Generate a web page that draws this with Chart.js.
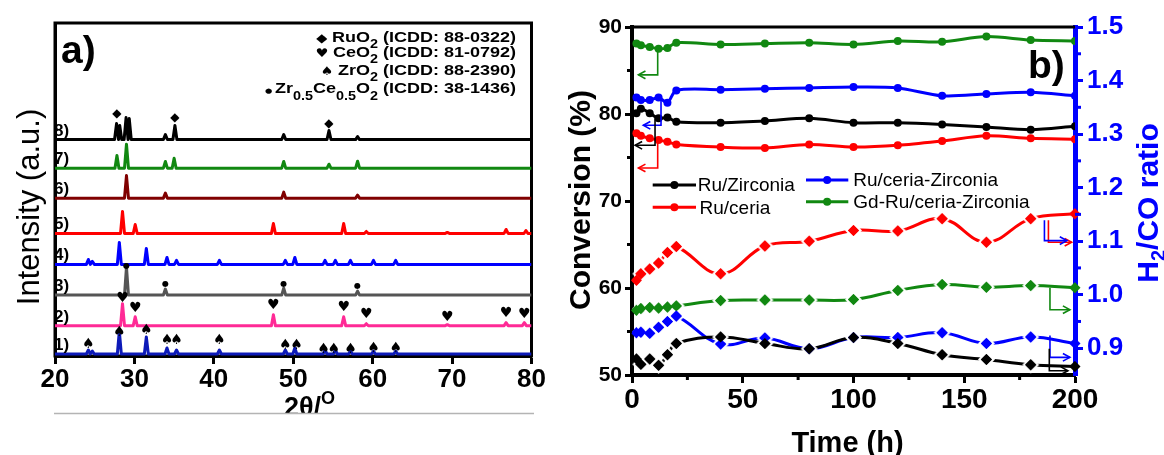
<!DOCTYPE html>
<html>
<head>
<meta charset="utf-8">
<script src="https://cdn.jsdelivr.net/npm/chart.js@4.4.1/dist/chart.umd.min.js"></script>
<style>
  html, body { margin: 0; padding: 0; background: #fff; }
  #wrap { position: relative; width: 1164px; height: 455px; overflow: hidden; }
  #panelA { position: absolute; left: 0; top: 0; }
  #panelB { position: absolute; left: 550px; top: 0; }
</style>
</head>
<body>
<div id="wrap">
  <canvas id="panelA" width="550" height="455"></canvas>
  <canvas id="panelB" width="614" height="455"></canvas>
</div>
<script>
const FONT = "'Liberation Sans', Arial, 'DejaVu Sans', sans-serif";
const SYM = "'DejaVu Sans', sans-serif";
Chart.defaults.font.family = FONT;
Chart.defaults.color = '#000';

// ---------- panel a : XRD patterns ----------
const xrdTicks = [20, 30, 40, 50, 60, 70, 80];
const patternNames = ['1)', '2)', '3)', '4)', '5)', '6)', '7)', '8)'];
const patternOffsets = [0.6, 9.1, 18.3, 27.5, 36.8, 47.4, 56.4, 65.0];
// [2theta, peak height] per pattern
const peaks1 = [[24.2, 1.2], [24.7, 0.9], [28.1, 6.9], [31.5, 5.1], [34.1, 1.8], [35.3, 1.2], [40.7, 1.2], [49.0, 1.2], [50.2, 1.8], [54.0, 1.2], [55.3, 1.2], [57.2, 0.9], [60.1, 0.9], [62.9, 0.9]];
const peaks2 = [[28.5, 6.6], [30.1, 2.7], [47.5, 3.3], [56.35, 2.7], [59.2, 0.6], [69.4, 0.3], [76.8, 0.9], [79.1, 0.9]];
const peaks3 = [[29.0, 8.4], [33.9, 1.8], [48.8, 2.1], [58.1, 1.2]];
const peaks4 = [[24.2, 1.5], [24.7, 0.9], [28.1, 6.6], [31.5, 4.8], [34.1, 2.1], [35.3, 1.2], [40.7, 1.2], [49.0, 1.2], [50.2, 2.1], [54.0, 1.2], [55.3, 1.2], [57.2, 1.2], [60.1, 1.2], [62.9, 1.2]];
const peaks5 = [[28.5, 6.6], [30.1, 2.7], [47.5, 3.0], [56.35, 3.0], [59.2, 0.6], [69.4, 0.3], [76.8, 1.2], [79.3, 0.9]];
const peaks6 = [[29.0, 6.8], [33.9, 1.5], [48.8, 1.8], [58.1, 0.9]];
const peaks7 = [[27.8, 3.8], [29.0, 7.2], [33.9, 2.0], [35.0, 3.0], [48.8, 2.0], [54.5, 1.2], [58.1, 2.1]];
const peaks8 = [[27.75, 4.8], [28.15, 4.2], [28.95, 6.6], [29.35, 6.3], [33.9, 1.5], [35.1, 4.2], [48.8, 1.5], [54.5, 2.7], [58.1, 0.9]];
// phase markers [2theta, intensity]
const ruo2Marks = [[27.8, 72.7], [35.1, 71.6], [54.5, 69.7]];
const ceo2Marks = [[28.5, 17.3], [30.1, 14.3], [47.5, 15.1], [56.35, 14.6], [59.2, 12.5], [69.4, 11.7], [76.8, 12.8], [79.1, 12.5]];
const zro2Marks = [[24.2, 3.5], [28.1, 7.1], [31.5, 7.8], [34.1, 4.8], [35.3, 4.8], [40.7, 4.8], [49.0, 3.3], [50.4, 3.3], [53.8, 2.1], [55.1, 2.1], [57.2, 2.1], [60.1, 2.4], [62.9, 2.4]];
const zcMarks = [[29.0, 27.0], [33.9, 21.5], [48.8, 21.5], [58.1, 21.0]];

// ---------- panel b : stability test ----------
const hours = [2, 4, 8, 12, 16, 20, 40, 60, 80, 100, 120, 140, 160, 180, 200];
const timeTicks = [0, 50, 100, 150, 200];
const convTicks = [50, 60, 70, 80, 90];
const ratioTicks = [0.9, 1.0, 1.1, 1.2, 1.3, 1.4, 1.5];
const timeMinor = [25, 75, 125, 175];
const convMinor = [55, 65, 75, 85];
const ratioMinor = [0.95, 1.05, 1.15, 1.25, 1.35, 1.45];
const catalysts = ['Ru/Zirconia', 'Ru/ceria', 'Ru/ceria-Zirconia', 'Gd-Ru/ceria-Zirconia'];
const convRuZr = [80.1, 80.6, 80.1, 79.5, 79.6, 79.1, 79.0, 79.2, 79.5, 79.0, 79.0, 78.8, 78.5, 78.2, 78.6];
const convRuCe = [77.8, 77.5, 77.2, 77.0, 76.8, 76.5, 76.2, 76.1, 76.5, 76.2, 76.4, 76.9, 77.5, 77.2, 77.1];
const convRuCeZr = [81.9, 81.6, 81.6, 81.9, 81.3, 82.7, 82.8, 82.9, 83.0, 83.1, 83.0, 82.1, 82.3, 82.5, 82.1];
const convGd = [88.1, 87.9, 87.7, 87.5, 87.6, 88.2, 88.0, 88.1, 88.2, 88.0, 88.4, 88.3, 88.9, 88.5, 88.4];
const ratioRuZr = [0.880, 0.870, 0.880, 0.868, 0.888, 0.909, 0.921, 0.909, 0.899, 0.920, 0.909, 0.888, 0.879, 0.869, 0.866];
const ratioRuCe = [1.027, 1.039, 1.048, 1.059, 1.079, 1.090, 1.039, 1.091, 1.100, 1.120, 1.119, 1.142, 1.098, 1.142, 1.151];
const ratioRuCeZr = [0.929, 0.930, 0.928, 0.939, 0.950, 0.960, 0.908, 0.919, 0.899, 0.920, 0.920, 0.929, 0.909, 0.921, 0.909];
const ratioGd = [0.971, 0.974, 0.976, 0.975, 0.977, 0.979, 0.989, 0.990, 0.990, 0.991, 1.008, 1.019, 1.014, 1.017, 1.013];

const patternColors = ['#0d1ab8', '#ff2a96', '#555555', '#0000ff', '#ff0000', '#800000', '#118811', '#000000'];
const seriesColors = ['#000000', '#ff0000', '#0000ff', '#118811'];
const B_LEFT = 550;

const PEAK_HALF = 0.25;
function patternPoints(peaks, offset) {
  const pts = [{x: 20, y: offset}];
  peaks.forEach(([pos, h]) => {
    if (pts[pts.length - 1].x < pos - PEAK_HALF) pts.push({x: pos - PEAK_HALF, y: offset});
    pts.push({x: pos, y: offset + h});
    pts.push({x: pos + PEAK_HALF, y: offset});
  });
  pts.push({x: 80, y: offset});
  return pts;
}

function drawRich(ctx, parts, x, y, align) {
  let total = 0;
  parts.forEach(p => { ctx.font = p.f; p.w = ctx.measureText(p.t).width; total += p.w; });
  let cx = align === 'right' ? x - total : align === 'center' ? x - total / 2 : x;
  ctx.textAlign = 'left';
  parts.forEach(p => {
    ctx.font = p.f;
    ctx.fillText(p.t, cx, y + (p.dy || 0));
    cx += p.w;
  });
}

const allPeaks = [peaks1, peaks2, peaks3, peaks4, peaks5, peaks6, peaks7, peaks8];

const panelAExtras = {
  id: 'panelAExtras',
  beforeDatasetsDraw(chart) {
    const {ctx, chartArea: a} = chart;
    ctx.save();
    ctx.strokeStyle = '#000';
    ctx.lineWidth = 3;
    ctx.strokeRect(a.left, a.top, a.right - a.left, a.bottom - a.top);
    ctx.restore();
  },
  afterDatasetsDraw(chart) {
    const {ctx, chartArea: a, scales: {x, y}} = chart;
    ctx.save();
    ctx.fillStyle = '#000';
    ctx.textBaseline = 'middle';
    ctx.textAlign = 'center';
    const marks = [[ruo2Marks, '◆', 12], [ceo2Marks, '♥', 14], [zro2Marks, '♠', 14], [zcMarks, '●', 8]];
    marks.forEach(([list, glyph, size]) => {
      ctx.font = size + 'px ' + SYM;
      list.forEach(([tt, v]) => ctx.fillText(glyph, x.getPixelForValue(tt), y.getPixelForValue(v)));
    });

    ctx.textBaseline = 'alphabetic';
    ctx.textAlign = 'left';
    ctx.font = 'bold 17px ' + FONT;
    patternNames.forEach((n, i) => ctx.fillText(n, a.left - 1, y.getPixelForValue(patternOffsets[i]) - 4));

    ctx.font = 'bold 39px ' + FONT;
    ctx.fillText('a)', 61, 63);

    const main = 'bold 15px ' + FONT, sub = 'bold 12px ' + FONT, sym = '12px ' + SYM;
    const legendLines = [
      [[{t: '◆ ', f: sym}, {t: 'RuO', f: main}, {t: '2', f: sub, dy: 6}, {t: ' (ICDD: 88-0322)', f: main}], 41.7],
      [[{t: '♥ ', f: sym}, {t: 'CeO', f: main}, {t: '2', f: sub, dy: 6}, {t: ' (ICDD: 81-0792)', f: main}], 57],
      [[{t: '♠ ', f: sym}, {t: 'ZrO', f: main}, {t: '2', f: sub, dy: 6}, {t: ' (ICDD: 88-2390)', f: main}], 75],
      [[{t: '● ', f: '7px ' + SYM}, {t: 'Zr', f: main}, {t: '0.5', f: sub, dy: 7}, {t: 'Ce', f: main}, {t: '0.5', f: sub, dy: 7}, {t: 'O', f: main}, {t: '2', f: sub, dy: 7}, {t: ' (ICDD: 38-1436)', f: main}], 93.3]
    ];
    legendLines.forEach(([parts, base]) => {
      ctx.save();
      ctx.translate(516, base);
      ctx.scale(1.2, 1);
      drawRich(ctx, parts, 0, 0, 'right');
      ctx.restore();
    });

    ctx.save();
    ctx.translate(39, 207);
    ctx.rotate(-Math.PI / 2);
    ctx.textAlign = 'center';
    ctx.font = '31px ' + FONT;
    ctx.fillText('Intensity (a.u.)', 0, 0);
    ctx.restore();

    ctx.save();
    ctx.beginPath();
    ctx.rect(0, 0, 550, 413);
    ctx.clip();
    drawRich(ctx, [{t: '2θ/', f: 'bold 27px ' + FONT}, {t: 'O', f: 'bold 18px ' + FONT, dy: -12}], 284, 416, 'left');
    ctx.restore();
    ctx.strokeStyle = '#b4b4b4';
    ctx.lineWidth = 1.5;
    ctx.beginPath();
    ctx.moveTo(54, 413.5);
    ctx.lineTo(534, 413.5);
    ctx.stroke();
    ctx.restore();
  }
};

new Chart(document.getElementById('panelA'), {
  type: 'line',
  data: {
    datasets: allPeaks.map((pk, i) => ({
      label: patternNames[i],
      data: patternPoints(pk, patternOffsets[i]),
      borderColor: patternColors[i],
      borderWidth: 3,
      pointRadius: 0,
      tension: 0,
      borderJoinStyle: 'round'
    }))
  },
  options: {
    responsive: false,
    animation: false,
    devicePixelRatio: 1,
    layout: {padding: {top: 23, right: 18.5, left: 0, bottom: 0}},
    plugins: {legend: {display: false}, tooltip: {enabled: false}},
    scales: {
      x: {
        type: 'linear', min: 20, max: 80,
        afterBuildTicks: s => { s.ticks = xrdTicks.map(v => ({value: v})); },
        ticks: {font: {size: 26, weight: 'bold'}, color: '#000', padding: 0, autoSkip: false, maxRotation: 0},
        grid: {display: true, drawOnChartArea: false, drawTicks: true, tickLength: 8, tickWidth: 3, tickColor: '#000'},
        border: {display: true, color: '#000', width: 3},
        afterFit: s => { s.height = 99; }
      },
      y: {
        type: 'linear', min: 0, max: 100,
        ticks: {display: false},
        grid: {display: false},
        border: {display: true, color: '#000', width: 3},
        afterFit: s => { s.width = 55; }
      }
    }
  },
  plugins: [panelAExtras]
});

// ---------- panel b ----------
const DIAMOND_R = 5.5;
function diamondPath(g, cx, cy, r) {
  g.beginPath();
  g.moveTo(cx, cy - r); g.lineTo(cx + r, cy); g.lineTo(cx, cy + r); g.lineTo(cx - r, cy);
  g.closePath();
}
function diamondMarker(color, gap) {
  const s = Math.ceil(2 * (DIAMOND_R + gap)) + 2;
  const c = document.createElement('canvas');
  c.width = s; c.height = s;
  const g = c.getContext('2d');
  if (gap > 0) { diamondPath(g, s / 2, s / 2, DIAMOND_R + gap); g.fillStyle = '#fff'; g.fill(); }
  diamondPath(g, s / 2, s / 2, DIAMOND_R); g.fillStyle = color; g.fill();
  return c;
}

const convSeries = [convRuZr, convRuCe, convRuCeZr, convGd];
const ratioSeries = [ratioRuZr, ratioRuCe, ratioRuCeZr, ratioGd];

const convArrows = [
  {c: 3, path: [[11.6, 87.6], [11.6, 84.5], [2.9, 84.5]]},
  {c: 2, path: [[13.1, 81.5], [13.1, 78.7], [5.1, 78.7]]},
  {c: 0, path: [[10.4, 79.5], [10.4, 76.4], [1.4, 76.4]]},
  {c: 1, path: [[11.6, 77.0], [11.6, 73.8], [2.9, 73.8]]}
];
const ratioArrows = [
  {c: 1, path: [[188.0, 1.139], [188.0, 1.098], [198.5, 1.098]]},
  {c: 2, path: [[186.2, 1.139], [186.2, 1.101], [196.3, 1.101]]},
  {c: 3, path: [[188.7, 1.013], [188.7, 0.972], [197.7, 0.972]]},
  {c: 2, path: [[188.7, 0.924], [188.7, 0.883], [197.7, 0.883]]},
  {c: 0, path: [[188.4, 0.899], [188.4, 0.858], [196.8, 0.858]]}
];

function drawArrow(ctx, pts, color) {
  ctx.strokeStyle = color;
  ctx.lineWidth = 1.6;
  ctx.beginPath();
  pts.forEach(([px, py], i) => i ? ctx.lineTo(px, py) : ctx.moveTo(px, py));
  ctx.stroke();
  const [x1, y1] = pts[pts.length - 2], [x2, y2] = pts[pts.length - 1];
  const ang = Math.atan2(y2 - y1, x2 - x1), L = 8;
  ctx.beginPath();
  ctx.moveTo(x2 - L * Math.cos(ang - 0.5), y2 - L * Math.sin(ang - 0.5));
  ctx.lineTo(x2, y2);
  ctx.lineTo(x2 - L * Math.cos(ang + 0.5), y2 - L * Math.sin(ang + 0.5));
  ctx.stroke();
}

const panelBExtras = {
  id: 'panelBExtras',
  afterDatasetsDraw(chart) {
    const {ctx} = chart;
    ctx.save();
    for (let i = chart.data.datasets.length - 1; i >= 0; i--) {
      const ds = chart.data.datasets[i];
      if (ds.yAxisID !== 'y1') continue;
      ctx.fillStyle = ds.borderColor;
      chart.getDatasetMeta(i).data.forEach(p => { diamondPath(ctx, p.x, p.y, DIAMOND_R); ctx.fill(); });
    }
    ctx.restore();
  },
  afterDraw(chart) {
    const {ctx, chartArea: a, scales: {x, y, y1}} = chart;
    ctx.save();
    // top frame line
    ctx.strokeStyle = '#000';
    ctx.lineWidth = 3;
    ctx.beginPath(); ctx.moveTo(a.left, a.top); ctx.lineTo(a.right, a.top); ctx.stroke();
    // minor ticks
    timeMinor.forEach(v => { const px = x.getPixelForValue(v); ctx.beginPath(); ctx.moveTo(px, a.bottom); ctx.lineTo(px, a.bottom + 5); ctx.stroke(); });
    convMinor.forEach(v => { const py = y.getPixelForValue(v); ctx.beginPath(); ctx.moveTo(a.left, py); ctx.lineTo(a.left - 5, py); ctx.stroke(); });
    ctx.strokeStyle = '#0000ff';
    ratioMinor.forEach(v => { const py = y1.getPixelForValue(v); ctx.beginPath(); ctx.moveTo(a.right, py); ctx.lineTo(a.right + 6, py); ctx.stroke(); });

    // bracket arrows
    convArrows.forEach(ar => drawArrow(ctx, ar.path.map(([tt, v]) => [x.getPixelForValue(tt), y.getPixelForValue(v)]), seriesColors[ar.c]));
    ratioArrows.forEach(ar => drawArrow(ctx, ar.path.map(([tt, v]) => [x.getPixelForValue(tt), y1.getPixelForValue(v)]), seriesColors[ar.c]));

    // page coordinates from here
    ctx.translate(-B_LEFT, 0);
    const legendPos = [[652.7, 696, 697.7, 185], [652.7, 696, 699.5, 207.3], [806, 848.3, 853.3, 180], [806, 848.3, 853.3, 201.7]];
    ctx.textBaseline = 'middle';
    ctx.textAlign = 'left';
    ctx.font = '19px ' + FONT;
    legendPos.forEach(([l0, l1, tx, ty], i) => {
      ctx.strokeStyle = seriesColors[i];
      ctx.fillStyle = seriesColors[i];
      ctx.lineWidth = 3;
      ctx.beginPath(); ctx.moveTo(l0, ty); ctx.lineTo(l1, ty); ctx.stroke();
      ctx.beginPath(); ctx.arc((l0 + l1) / 2, ty, 4, 0, Math.PI * 2); ctx.fill();
      ctx.fillStyle = '#000';
      ctx.fillText(catalysts[i], tx, ty + 1);
    });

    ctx.textBaseline = 'alphabetic';
    ctx.fillStyle = '#000';
    ctx.font = 'bold 39px ' + FONT;
    ctx.fillText('b)', 1028, 78);

    ctx.font = 'bold 29px ' + FONT;
    ctx.textAlign = 'center';
    ctx.fillText('Time (h)', 847.5, 452);

    ctx.save();
    ctx.translate(590, 200);
    ctx.rotate(-Math.PI / 2);
    ctx.font = 'bold 30px ' + FONT;
    ctx.fillText('Conversion (%)', 0, 0);
    ctx.restore();

    ctx.save();
    ctx.translate(1158, 203);
    ctx.rotate(-Math.PI / 2);
    ctx.fillStyle = '#0000ff';
    drawRich(ctx, [{t: 'H', f: 'bold 30px ' + FONT}, {t: '2', f: 'bold 20px ' + FONT, dy: 7}, {t: '/CO ratio', f: 'bold 30px ' + FONT}], 0, 0, 'center');
    ctx.restore();
    ctx.restore();
  }
};

const last = hours.length - 1;
const datasetsB = [];
convSeries.forEach((vals, i) => datasetsB.push({
  label: catalysts[i] + ' conversion',
  yAxisID: 'y',
  data: hours.map((h, k) => ({x: h, y: vals[k]})),
  borderColor: seriesColors[i],
  backgroundColor: seriesColors[i],
  borderWidth: 3,
  pointStyle: 'circle',
  pointRadius: 4,
  pointBorderWidth: 0,
  tension: 0.3
}));
ratioSeries.forEach((vals, i) => {
  const halo = diamondMarker(seriesColors[i], 3);
  const plain = diamondMarker(seriesColors[i], 0);
  datasetsB.push({
    label: catalysts[i] + ' H2/CO',
    yAxisID: 'y1',
    data: hours.map((h, k) => ({x: h, y: vals[k]})),
    borderColor: seriesColors[i],
    backgroundColor: seriesColors[i],
    borderWidth: 3,
    pointStyle: c => (c.dataIndex === 0 || c.dataIndex === last) ? plain : halo,
    pointRadius: 6,
    tension: 0.4
  });
});

new Chart(document.getElementById('panelB'), {
  type: 'line',
  data: {datasets: datasetsB},
  options: {
    responsive: false,
    animation: false,
    devicePixelRatio: 1,
    layout: {padding: {top: 27, right: 0, left: 0, bottom: 0}},
    plugins: {legend: {display: false}, tooltip: {enabled: false}},
    scales: {
      x: {
        type: 'linear', min: 0, max: 200,
        afterBuildTicks: s => { s.ticks = timeTicks.map(v => ({value: v})); },
        ticks: {font: {size: 28, weight: 'bold'}, color: '#000', padding: 0, autoSkip: false, maxRotation: 0},
        grid: {display: true, drawOnChartArea: false, tickLength: 8, tickWidth: 3, tickColor: '#000'},
        border: {display: true, color: '#000', width: 4},
        afterFit: s => { s.height = 80; }
      },
      y: {
        type: 'linear', position: 'left', min: 50, max: 90,
        afterBuildTicks: s => { s.ticks = convTicks.map(v => ({value: v})); },
        ticks: {font: {size: 21, weight: 'bold'}, color: '#000', padding: 3},
        grid: {display: true, drawOnChartArea: false, tickLength: 7, tickWidth: 3, tickColor: '#000'},
        border: {display: true, color: '#000', width: 4},
        afterFit: s => { s.width = 82; }
      },
      y1: {
        type: 'linear', position: 'right', min: 0.85, max: 1.5,
        afterBuildTicks: s => { s.ticks = ratioTicks.map(v => ({value: v})); },
        ticks: {font: {size: 26, weight: 'bold'}, color: '#0000ff', padding: 4, callback: v => v.toFixed(1)},
        grid: {display: true, drawOnChartArea: false, tickLength: 8, tickWidth: 3, tickColor: '#0000ff'},
        border: {display: true, color: '#0000ff', width: 5},
        afterFit: s => { s.width = 89; }
      }
    }
  },
  plugins: [panelBExtras]
});
</script>
</body>
</html>
